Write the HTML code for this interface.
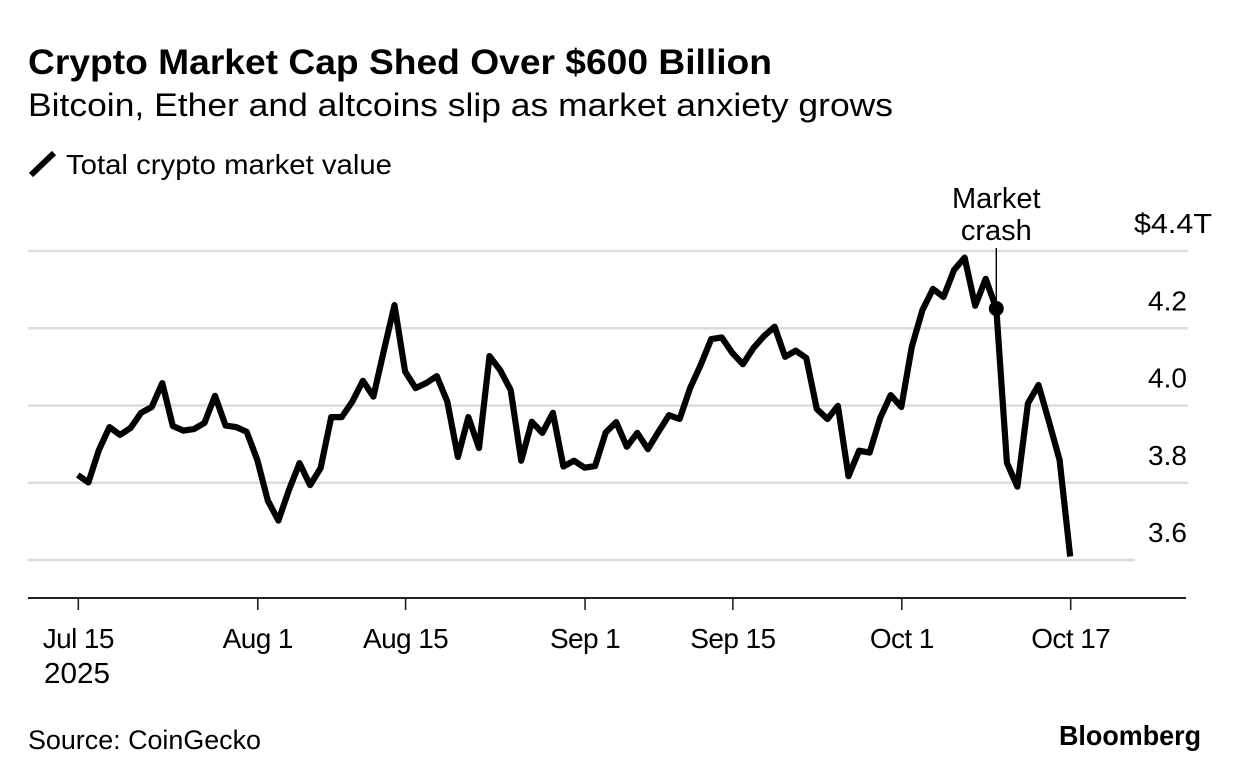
<!DOCTYPE html>
<html lang="en">
<head>
<meta charset="utf-8">
<title>Crypto Market Cap Shed Over $600 Billion</title>
<style>
  html, body { margin: 0; padding: 0; background: #fff; }
  svg { display: block; }
  text { font-family: "Liberation Sans", Arial, sans-serif; fill: #000; }
</style>
</head>
<body>
<svg id="chart" xmlns="http://www.w3.org/2000/svg" width="1240" height="782" viewBox="0 0 1240 782">
  <rect x="0" y="0" width="1240" height="782" fill="#fff"/>
  <text x="28" y="74" font-size="35" font-weight="700" textLength="744" lengthAdjust="spacingAndGlyphs">Crypto Market Cap Shed Over $600 Billion</text>
  <text x="28" y="116" font-size="32.5" textLength="865" lengthAdjust="spacingAndGlyphs">Bitcoin, Ether and altcoins slip as market anxiety grows</text>
  <line x1="31" y1="175" x2="54" y2="153" stroke="#000" stroke-width="6"/>
  <text x="66" y="174" font-size="28" textLength="326" lengthAdjust="spacingAndGlyphs">Total crypto market value</text>
  <g id="grid"></g>
  <g id="y-labels"></g>
  <line x1="28" y1="598" x2="1186" y2="598" stroke="#222" stroke-width="2"/>
  <g id="x-axis"></g>
  <text x="44" y="683" font-size="29" textLength="66" lengthAdjust="spacingAndGlyphs">2025</text>
  <path id="series-line" fill="none" stroke="#000" stroke-width="6.2" stroke-linejoin="round" stroke-linecap="butt"></path>
  <line id="annotation-leader" stroke="#000" stroke-width="1.4"></line>
  <circle id="annotation-dot" r="7.5" fill="#000"></circle>
  <text id="annotation-line-1" y="208" font-size="29" text-anchor="middle">Market</text>
  <text id="annotation-line-2" y="240" font-size="29" text-anchor="middle">crash</text>
  <text x="28" y="749" font-size="26.5" textLength="233" lengthAdjust="spacingAndGlyphs">Source: CoinGecko</text>
  <text x="1059" y="745" font-size="28" font-weight="700" textLength="142" lengthAdjust="spacingAndGlyphs">Bloomberg</text>
</svg>
<script>
// Total crypto market value in $ trillions, one value per day starting Jul 15 2025
const seriesValues = [
  3.820, 3.801, 3.885, 3.944, 3.924, 3.942, 3.981, 3.996, 4.058, 3.947,
  3.935, 3.939, 3.955, 4.025, 3.948, 3.944, 3.932, 3.859, 3.754, 3.702,
  3.781, 3.851, 3.794, 3.838, 3.970, 3.970, 4.010, 4.064, 4.023, 4.144,
  4.260, 4.088, 4.045, 4.058, 4.076, 4.010, 3.867, 3.970, 3.890, 4.128,
  4.092, 4.040, 3.857, 3.958, 3.929, 3.981, 3.842, 3.857, 3.839, 3.843,
  3.930, 3.957, 3.893, 3.929, 3.887, 3.932, 3.975, 3.965, 4.045, 4.105,
  4.172, 4.176, 4.136, 4.107, 4.149, 4.180, 4.204, 4.126, 4.142, 4.123,
  3.991, 3.965, 3.999, 3.817, 3.883, 3.878, 3.968, 4.027, 3.996, 4.152,
  4.247, 4.302, 4.281, 4.351, 4.383, 4.258, 4.328, 4.251, 3.852, 3.790,
  4.006, 4.053, 3.957, 3.859, 3.609
];
const xTickDays = [0, 17, 31, 48, 62, 78, 94];
const xTickLabels = ["Jul 15", "Aug 1", "Aug 15", "Sep 1", "Sep 15", "Oct 1", "Oct 17"];
const yTickValues = [4.4, 4.2, 4.0, 3.8, 3.6];
const yTickLabels = ["$4.4T", "4.2", "4.0", "3.8", "3.6"];
const annotationDay = 87;

const SVG_NS = "http://www.w3.org/2000/svg";
function xScale(day) { return 77.8 + day * (1070.2 - 77.8) / 94; }
function axisX(day) { return 78.3 + day * (1070.7 - 78.3) / 94; }
function yScale(value) { return 251 + (4.4 - value) * (560 - 251) / 0.8; }

const gridGroup = document.getElementById("grid");
const yLabelGroup = document.getElementById("y-labels");
yTickValues.forEach(function (value, i) {
  const gy = yScale(value);
  const gridLine = document.createElementNS(SVG_NS, "line");
  gridLine.setAttribute("x1", 28);
  gridLine.setAttribute("x2", i === yTickValues.length - 1 ? 1135 : 1188);
  gridLine.setAttribute("y1", gy);
  gridLine.setAttribute("y2", gy);
  gridLine.setAttribute("stroke", "#dcdcdc");
  gridLine.setAttribute("stroke-width", 2.5);
  
  
  gridGroup.appendChild(gridLine);

  const label = document.createElementNS(SVG_NS, "text");
  label.setAttribute("x", i === 0 ? 1134 : 1148);
  label.setAttribute("y", gy - 18);
  label.setAttribute("font-size", 28);
  if (i === 0) {
    label.setAttribute("textLength", 78);
    label.setAttribute("lengthAdjust", "spacingAndGlyphs");
  }
  label.textContent = yTickLabels[i];
  
  
  yLabelGroup.appendChild(label);
});

const xAxisGroup = document.getElementById("x-axis");
xTickDays.forEach(function (day, i) {
  const tx = axisX(day);
  const tick = document.createElementNS(SVG_NS, "line");
  tick.setAttribute("x1", tx);
  tick.setAttribute("x2", tx);
  tick.setAttribute("y1", 598);
  tick.setAttribute("y2", 610);
  tick.setAttribute("stroke", "#222");
  tick.setAttribute("stroke-width", 1.6);
  
  
  xAxisGroup.appendChild(tick);

  const label = document.createElementNS(SVG_NS, "text");
  label.setAttribute("x", tx);
  label.setAttribute("y", 648);
  label.setAttribute("font-size", 28);
  label.setAttribute("letter-spacing", "-0.6");
  label.setAttribute("text-anchor", "middle");
  label.textContent = xTickLabels[i];
  
  
  xAxisGroup.appendChild(label);
});

document.getElementById("series-line").setAttribute("d", seriesValues.map(function (value, day) {
  return (day === 0 ? "M" : "L") + xScale(day).toFixed(1) + " " + yScale(value).toFixed(1);
}).join(" "));

const ax = xScale(annotationDay);
const ay = yScale(seriesValues[annotationDay]);
const leader = document.getElementById("annotation-leader");
leader.setAttribute("x1", ax);
leader.setAttribute("x2", ax);
leader.setAttribute("y1", 248);
leader.setAttribute("y2", ay);
const dot = document.getElementById("annotation-dot");
dot.setAttribute("cx", ax);
dot.setAttribute("cy", ay);
document.getElementById("annotation-line-1").setAttribute("x", ax);
document.getElementById("annotation-line-2").setAttribute("x", ax);
</script>
</body>
</html>
